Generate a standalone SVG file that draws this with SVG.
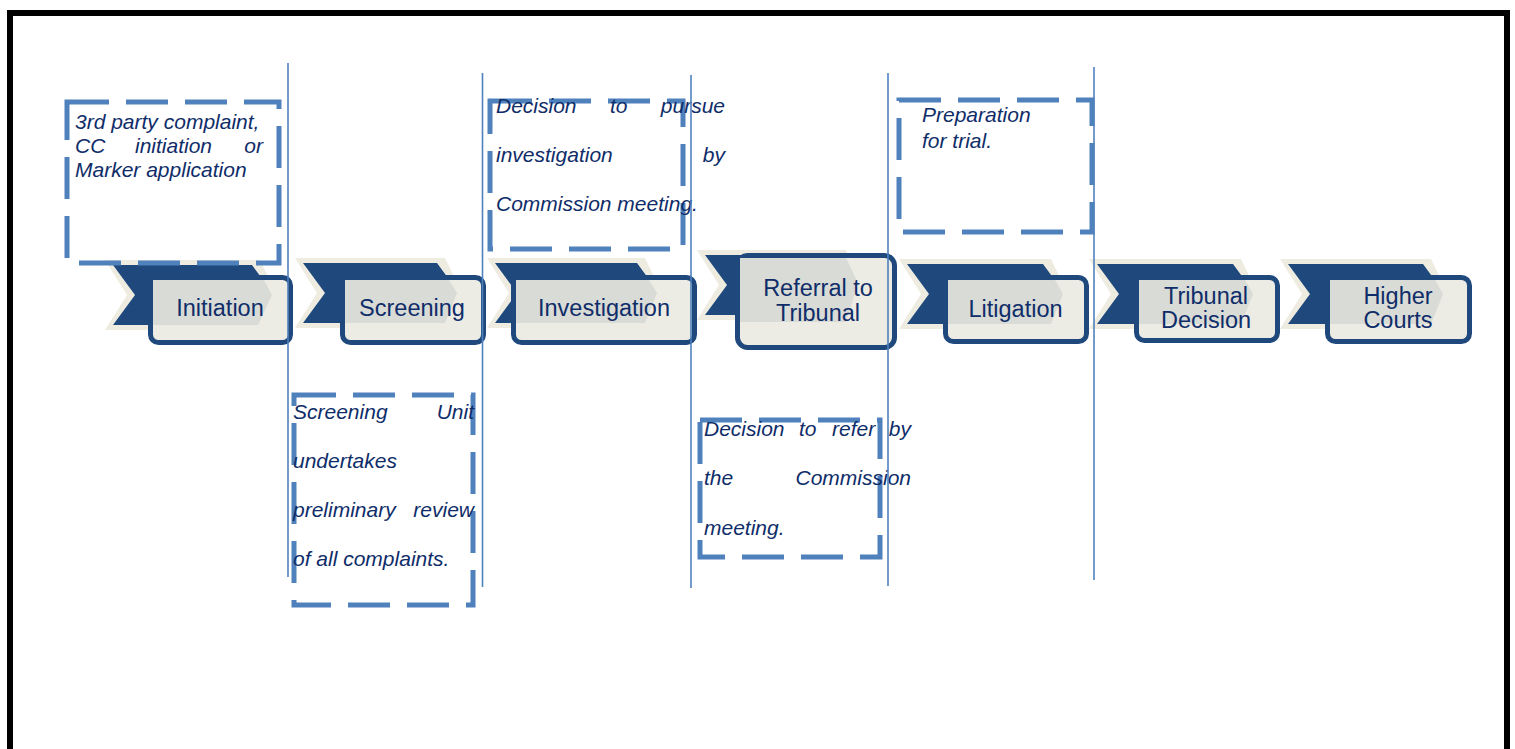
<svg xmlns="http://www.w3.org/2000/svg" width="1515" height="749" viewBox="0 0 1515 749">
<style>
.cream{fill:#EEECE1}
.dark{fill:#1F497D}
.box{fill:#ECEBE4;stroke:#1F497D;stroke-width:5}
.grey{fill:#D9DBD6}
.lbl{font-family:"Liberation Sans",Arial,sans-serif;font-size:23.5px;fill:#0F2D69;text-anchor:middle}
.note{fill:none;stroke:#4F81BD;stroke-width:5;stroke-dasharray:42 17}
.nt{font-family:"Liberation Sans",Arial,sans-serif;font-size:21px;font-style:italic;fill:#0F2D69}
.end{text-anchor:end}
.div{stroke:#4F81BD;stroke-width:1.6}
</style>
<rect x="0" y="0" width="1515" height="749" fill="#FFFFFF"/>
<rect x="10" y="13" width="1497" height="800" fill="none" stroke="#000000" stroke-width="6"/>

<g id="node-initiation">
<polygon class="cream" points="105,260 260,260 277,295 260,330 105,330 127,295"/>
<polygon class="dark" points="113,265 252,265 274,295 252,325 113,325 135,295"/>
<rect class="box" x="150.5" y="277.5" width="140" height="65" rx="8"/>
<polygon class="grey" points="153,280 264,280 272,295 258,325 153,325"/>
<text class="lbl" x="220" y="316">Initiation</text>
</g>

<g id="node-screening">
<polygon class="cream" points="295,258 445,258 462,293 445,328 295,328 317,293"/>
<polygon class="dark" points="303,263 437,263 459,293 437,323 303,323 325,293"/>
<rect class="box" x="342.5" y="277.5" width="141" height="65" rx="8"/>
<polygon class="grey" points="345,280 449,280 457,293 445,323 345,323"/>
<text class="lbl" x="412" y="316">Screening</text>
</g>

<g id="node-investigation">
<polygon class="cream" points="487,258 645,258 662,293 645,328 487,328 509,293"/>
<polygon class="dark" points="495,263 637,263 659,293 637,323 495,323 517,293"/>
<rect class="box" x="513.5" y="277.5" width="181" height="65" rx="8"/>
<polygon class="grey" points="516,280 649,280 657,293 645,323 516,323"/>
<text class="lbl" x="604" y="316">Investigation</text>
</g>

<g id="node-referral">
<polygon class="cream" points="697,250 846,250 863,285 846,320 697,320 719,285"/>
<polygon class="dark" points="705,255 838,255 860,285 838,315 705,315 727,285"/>
<rect class="box" x="737.5" y="255.5" width="157" height="92" rx="10"/>
<polygon class="grey" points="740,258 846,258 858,283 846,322 740,322"/>
<text class="lbl" x="818" y="296">Referral to</text>
<text class="lbl" x="818" y="321">Tribunal</text>
</g>

<g id="node-litigation">
<polygon class="cream" points="899,259 1051,259 1068,294 1051,329 899,329 921,294"/>
<polygon class="dark" points="907,264 1043,264 1065,294 1043,324 907,324 929,294"/>
<rect class="box" x="945.5" y="277.5" width="141" height="64" rx="8"/>
<polygon class="grey" points="948,280 1055,280 1063,294 1051,324 948,324"/>
<text class="lbl" x="1015.5" y="317">Litigation</text>
</g>

<g id="node-tribunal-decision">
<polygon class="cream" points="1089,259 1241,259 1258,294 1241,329 1089,329 1111,294"/>
<polygon class="dark" points="1097,264 1233,264 1255,294 1233,324 1097,324 1119,294"/>
<rect class="box" x="1136.5" y="277.5" width="141" height="63" rx="8"/>
<polygon class="grey" points="1139,280 1245,280 1253,294 1241,324 1139,324"/>
<text class="lbl" x="1206" y="304">Tribunal</text>
<text class="lbl" x="1206" y="328">Decision</text>
</g>

<g id="node-higher-courts">
<polygon class="cream" points="1280,259 1431,259 1448,294 1431,329 1280,329 1302,294"/>
<polygon class="dark" points="1288,264 1423,264 1445,294 1423,324 1288,324 1310,294"/>
<rect class="box" x="1327.5" y="277.5" width="142" height="64" rx="8"/>
<polygon class="grey" points="1330,280 1435,280 1443,294 1431,324 1330,324"/>
<text class="lbl" x="1398" y="304">Higher</text>
<text class="lbl" x="1398" y="328">Courts</text>
</g>

<g id="note-initiation">
<rect class="note" x="67" y="102" width="212" height="161"/>
<text class="nt" x="75" y="129">3rd party complaint,</text>
<text class="nt" x="75" y="153">CC</text>
<text class="nt" x="135" y="153">initiation</text>
<text class="nt end" x="263" y="153">or</text>
<text class="nt" x="75" y="177">Marker application</text>
</g>

<g id="note-screening">
<rect class="note" x="294" y="395" width="179" height="210"/>
<text class="nt" x="293" y="419">Screening</text>
<text class="nt end" x="474" y="419">Unit</text>
<text class="nt" x="293" y="468">undertakes</text>
<text class="nt" x="293" y="517">preliminary</text>
<text class="nt end" x="474" y="517">review</text>
<text class="nt" x="293" y="566">of all complaints.</text>
</g>

<g id="note-investigation">
<rect class="note" x="490" y="101" width="193" height="148"/>
<text class="nt" x="496" y="113">Decision</text>
<text class="nt" x="610" y="113">to</text>
<text class="nt end" x="725" y="113">pursue</text>
<text class="nt" x="496" y="162">investigation</text>
<text class="nt end" x="725" y="162">by</text>
<text class="nt" x="496" y="211">Commission meeting.</text>
</g>

<g id="note-referral">
<rect class="note" x="700" y="420" width="180" height="137"/>
<text class="nt" x="704" y="436">Decision</text>
<text class="nt" x="799" y="436">to</text>
<text class="nt" x="832" y="436">refer</text>
<text class="nt end" x="911" y="436">by</text>
<text class="nt" x="704" y="485">the</text>
<text class="nt end" x="911" y="485">Commission</text>
<text class="nt" x="704" y="535">meeting.</text>
</g>

<g id="note-litigation">
<rect class="note" x="899" y="100" width="193" height="132"/>
<text class="nt" x="922" y="122">Preparation</text>
<text class="nt" x="922" y="148">for trial.</text>
</g>

<g id="connectors">
<line class="div" x1="288" y1="63" x2="288" y2="577"/>
<line class="div" x1="482.5" y1="73" x2="482.5" y2="587"/>
<line class="div" x1="691" y1="75" x2="691" y2="588"/>
<line class="div" x1="888" y1="73" x2="888" y2="586"/>
<line class="div" x1="1094" y1="67" x2="1094" y2="580"/>
</g>
</svg>
